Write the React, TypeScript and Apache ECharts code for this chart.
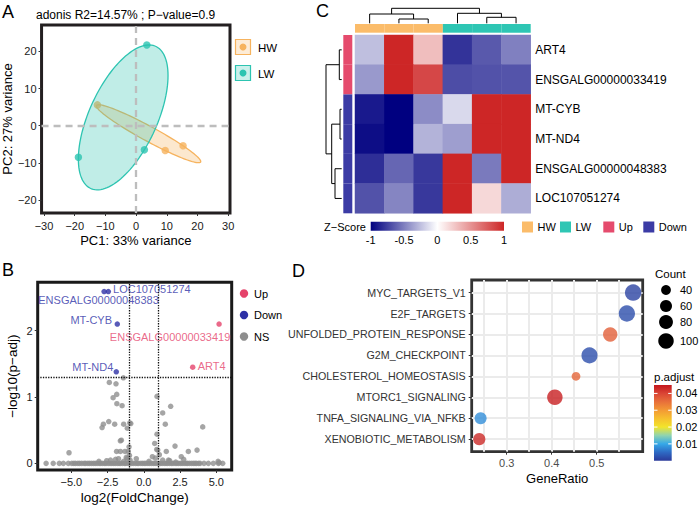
import React, { useEffect, useRef } from 'react';
import * as echarts from 'echarts';

const FONT = '"Liberation Sans", Arial, Helvetica, sans-serif';

// ---------- Panel A: PCA ----------
const pcaGroups = ['HW', 'LW'];
const pcaColors = ['#F6B35E', '#2DC4B1'];
const hwPC1 = [-12.6, 9.5, 15.3];
const hwPC2 = [5.6, -6.7, -5.4];
const lwPC1 = [3.5, -18.8, 2.7];
const lwPC2 = [21.7, -8.5, -6.5];
const pcaXTicks = [-30, -20, -10, 0, 10, 20, 30];
const pcaYTicks = [-20, -10, 0, 10, 20];

// ---------- Panel B: volcano ----------
const upGenes = ['ENSGALG00000033419', 'ART4'];
const upFC = [5.19, 3.37];
const upP = [2.1, 1.45];
const downGenes = ['LOC107051274', 'ENSGALG00000048383', 'MT-CYB', 'MT-ND4'];
const downFC = [-2.45, -2.74, -1.83, -1.9];
const downP = [2.59, 2.59, 2.1, 1.38];
const nsPoints = [
  [-6.74, 0], [-6.25, 0], [-5.83, 0], [-5.55, 0], [-5.21, 0], [-4.97, 0], [-4.83, 0], [-4.71, 0], [-4.55, 0],
  [-4.43, 0], [-4.28, 0], [-4.12, 0], [-4.01, 0], [-3.86, 0], [-3.74, 0], [-3.61, 0], [-3.47, 0], [-3.35, 0],
  [-3.22, 0], [-3.08, 0], [-2.97, 0], [-2.84, 0], [-2.7, 0], [-2.61, 0], [-2.46, 0], [-2.33, 0], [-2.21, 0],
  [-2.08, 0], [-1.97, 0], [-1.83, 0], [-1.71, 0], [-1.62, 0], [-1.48, 0], [-1.33, 0], [-1.24, 0], [-1.09, 0],
  [-0.98, 0], [-0.84, 0], [-0.73, 0], [-0.58, 0], [-0.46, 0], [-0.36, 0], [-0.21, 0], [-0.09, 0], [0.03, 0],
  [0.14, 0], [0.28, 0], [0.39, 0], [0.53, 0], [0.66, 0], [0.78, 0], [0.91, 0], [1.03, 0], [1.14, 0], [1.26, 0],
  [1.41, 0], [1.53, 0], [1.64, 0], [1.78, 0], [1.91, 0], [2.01, 0], [2.16, 0], [2.28, 0], [2.39, 0], [2.53, 0],
  [2.64, 0], [2.78, 0], [2.91, 0], [3.01, 0], [3.14, 0], [3.28, 0], [3.41, 0], [3.53, 0], [3.63, 0], [3.78, 0],
  [3.88, 0], [4.15, 0], [4.45, 0], [4.79, 0], [5.14, 0], [5.44, 0],
  [-1.41, 1.29], [-2.38, 1.22], [-1.92, 1.2], [-1.87, 1.04], [-2.12, 0.99], [-1.86, 0.9], [-1.5, 0.87],
  [0.91, 1.01], [1.3, 0.76], [1.85, 0.86], [-2.42, 0.63], [-2.79, 0.59], [-2.88, 0.54], [-2.01, 0.59],
  [-1.39, 0.59], [-0.97, 0.61], [-0.9, 0.6], [-1.14, 0.53], [1.48, 0.59], [4.06, 0.55], [-1.62, 0.34],
  [-1.55, 0.35], [0.91, 0.44], [0.75, 0.3], [0.89, 0.21], [0.96, 0.2], [2.15, 0.26], [-5.16, 0.16],
  [3.67, 0.2], [3.07, 0.18], [-1.88, 0.18], [-1.62, 0.18], [-1.3, 0.18], [-1.07, 0.18], [1.55, 0.18],
  [2.58, 0.1], [2.75, 0.06], [0.59, 0.1], [-1.95, 0.06], [-1.75, 0.07], [-1.21, 0.09], [-1.15, 0.07],
  [-0.52, 0.07], [1.3, 0.05], [1.7, 0.05], [5.12, 0.03], [5.2, 0.01], [-2.56, 0.04], [1.07, 0.13],
  [1.78, 0.04], [-0.99, 0.12], [-1.02, 0.25], [-2.3, 0.05], [0.8, 0.08], [-0.95, 0.05], [0.35, 0.03],
  [-3.1, 0.03], [2.2, 0.02], [-1.4, 0.03],
];
const volcanoXTicks = [-5, -2.5, 0, 2.5, 5];
const volcanoYTicks = [0, 1, 2];
const fcCutoff = 1;
const padjCutoff = 0.05;
const volcanoClasses = ['Up', 'Down', 'NS'];
const volcanoColors = ['#E5436B', '#2E31A6', '#8E8E8E'];

// ---------- Panel C: heatmap ----------
const heatSamples = ['HW_1', 'HW_2', 'HW_3', 'LW_1', 'LW_2', 'LW_3'];
const sampleGroups = ['HW', 'HW', 'HW', 'LW', 'LW', 'LW'];
const heatGenes = ['ART4', 'ENSGALG00000033419', 'MT-CYB', 'MT-ND4', 'ENSGALG00000048383', 'LOC107051274'];
const geneGroups = ['Up', 'Up', 'Down', 'Down', 'Down', 'Down'];
const zART4 = [-0.25, 1.9, 0.3, -0.8, -0.65, -0.5];
const zENSG33419 = [-0.4, 1.6, 0.85, -0.7, -0.68, -0.67];
const zMTCYB = [-0.9, -1.1, -0.45, -0.15, 1.3, 1.3];
const zMTND4 = [-0.95, -1.05, -0.3, -0.38, 1.34, 1.34];
const zENSG48383 = [-0.82, -0.6, -0.78, 1.36, -0.52, 1.36];
const zLOC = [-0.68, -0.48, -0.78, 2.0, 0.18, -0.32];
const heatRows = [zART4, zENSG33419, zMTCYB, zMTND4, zENSG48383, zLOC];
const colMerge = [[-2, -3], [-5, -6], [-1, 1], [-4, 2], [3, 4]];
const colHeight = [4.3, 6.0, 9.3, 10.0, 15.0];
const rowMerge = [[-3, -4], [-1, -2], [-5, -6], [1, 3], [2, 4]];
const rowHeight = [1.7, 2.4, 6.7, 10.0, 15.7];
const zTicks = [-1, -0.5, 0, 0.5, 1];
const heatColors = ['#000080', '#FFFFFF', '#CD2626'];
const annoNames = ['HW', 'LW', 'Up', 'Down'];
const annoColors = ['#FBBC6A', '#2EC6B4', '#E54B6D', '#3B3BA5'];

// ---------- Panel D: enrichment dot plot ----------
const pathways = ['MYC_TARGETS_V1', 'E2F_TARGETS', 'UNFOLDED_PROTEIN_RESPONSE', 'G2M_CHECKPOINT',
  'CHOLESTEROL_HOMEOSTASIS', 'MTORC1_SIGNALING', 'TNFA_SIGNALING_VIA_NFKB', 'XENOBIOTIC_METABOLISM'];
const geneRatio = [0.581, 0.567, 0.53, 0.484, 0.454, 0.407, 0.242, 0.239];
const geneCount = [112, 110, 86, 108, 32, 100, 60, 62];
const pAdjust = [0.001, 0.002, 0.037, 0.002, 0.036, 0.044, 0.008, 0.043];
const ratioTicks = [0.3, 0.4, 0.5];
const ratioGrid = [0.25, 0.3, 0.35, 0.4, 0.45, 0.5, 0.55];
const countBreaks = [40, 60, 80, 100];
const padjBreaks = [0.01, 0.02, 0.03, 0.04];
const padjRange = [0, 0.045];
const padjColors = ['#2B3A9A', '#2E6AC4', '#35A8E8', '#8FD3B0', '#F2E52A', '#F6C02E', '#F39A34', '#E8703A', '#DA4535', '#C3161D'];

// ---------- helpers ----------
const minus = (v: number, d?: number) => {
  const s = d === undefined ? String(Math.abs(v)) : Math.abs(v).toFixed(d);
  return v < 0 ? '\u2212' + s : s;
};
const near = (v: number, arr: number[]) => arr.some((t) => Math.abs(t - v) < 1e-6);
const clamp = (v: number, lo: number, hi: number) => Math.max(lo, Math.min(hi, v));
const dotSize = (c: number) => 1.55 * Math.sqrt(c);

function hexA(hex: string, a: number) {
  const n = parseInt(hex.slice(1), 16);
  return `rgba(${(n >> 16) & 255},${(n >> 8) & 255},${n & 255},${a})`;
}

function ellipsePoints(xs: number[], ys: number[]) {
  const n = xs.length;
  const mx = xs.reduce((a, b) => a + b, 0) / n;
  const my = ys.reduce((a, b) => a + b, 0) / n;
  let sxx = 0, syy = 0, sxy = 0;
  for (let i = 0; i < n; i++) {
    sxx += (xs[i] - mx) ** 2; syy += (ys[i] - my) ** 2; sxy += (xs[i] - mx) * (ys[i] - my);
  }
  sxx /= n - 1; syy /= n - 1; sxy /= n - 1;
  const l11 = Math.sqrt(sxx);
  const l21 = sxy / l11;
  const l22 = Math.sqrt(Math.max(syy - l21 * l21, 0));
  const r = Math.sqrt(((n - 1) * (n - 1)) / n);
  const pts: number[][] = [];
  for (let k = 0; k < 120; k++) {
    const t = (k / 120) * Math.PI * 2;
    pts.push([mx + r * l11 * Math.cos(t), my + r * (l21 * Math.cos(t) + l22 * Math.sin(t))]);
  }
  return pts;
}

function buildDendro(merge: number[][], heights: number[]) {
  const pos: number[] = [];
  const segs: number[][] = [];
  const gp = (k: number) => (k < 0 ? -k - 1 : pos[k - 1]);
  const gh = (k: number) => (k < 0 ? 0 : heights[k - 1]);
  merge.forEach((m, i) => {
    const p1 = gp(m[0]);
    const p2 = gp(m[1]);
    pos[i] = (p1 + p2) / 2;
    segs.push([p1, p2, gh(m[0]), gh(m[1]), heights[i]]);
  });
  return segs;
}

const labelLayout: Record<string, { align: string; dx: number; dy: number }> = {
  LOC107051274: { align: 'left', dx: 4.7, dy: -2.6 },
  ENSGALG00000048383: { align: 'center', dx: -5.6, dy: 8.4 },
  'MT-CYB': { align: 'right', dx: -5.3, dy: -4 },
  ENSGALG00000033419: { align: 'center', dx: -49, dy: 12.6 },
  'MT-ND4': { align: 'right', dx: -3, dy: -5 },
  ART4: { align: 'left', dx: 5, dy: -1 },
};

function geneItems(names: string[], fc: number[], p: number[], color: string) {
  return names.map((g, i) => {
    const L = labelLayout[g];
    return {
      name: g,
      value: [fc[i], p[i]],
      label: {
        show: true, formatter: () => g, position: 'inside', align: L.align, verticalAlign: 'middle',
        offset: [L.dx, L.dy], color, fontSize: 11, fontFamily: FONT,
      },
    };
  });
}

function buildOption() {
  const txt = (x: number, y: number, text: string, size: number, opts: any = {}) => ({
    type: 'text', x, y, z: 100,
    style: { text, fill: opts.fill || '#000', font: `${size}px ${FONT}`, align: opts.align || 'left', verticalAlign: opts.va || 'middle' },
  });

  const colSegs = buildDendro(colMerge, colHeight);
  const rowSegs = buildDendro(rowMerge, rowHeight);

  const heatData: number[][] = [];
  heatRows.forEach((row, r) => row.forEach((v, c) => heatData.push([c, r, clamp(v, -1, 1)])));

  const tickStyle = { show: true, length: 3, lineStyle: { color: '#333', width: 1 } };
  const hidden = { show: false };
  const noLine = { show: false, onZero: false };

  const graphics: any[] = [];
  graphics.push(txt(2, 12, 'A', 18));
  graphics.push(txt(2, 270, 'B', 18));
  graphics.push(txt(316, 11, 'C', 18));
  graphics.push(txt(292, 271, 'D', 18));
  graphics.push(txt(36, 15, 'adonis R2=14.57% ; P\u2212value=0.9', 12));

  pcaGroups.forEach((g, i) => {
    const y0 = 39.5 + i * 26;
    graphics.push({ type: 'rect', shape: { x: 235.5, y: y0, width: 15, height: 15 }, style: { fill: hexA(pcaColors[i], 0.25), stroke: pcaColors[i], lineWidth: 1.2 } });
    graphics.push({ type: 'circle', shape: { cx: 243, cy: y0 + 7.5, r: 3.5 }, style: { fill: pcaColors[i] } });
    graphics.push(txt(258, y0 + 8, g, 11.5));
  });

  volcanoClasses.forEach((c, i) => {
    const y = 293.5 + i * 21.5;
    graphics.push({ type: 'circle', shape: { cx: 244, cy: y, r: 4.2 }, style: { fill: volcanoColors[i] } });
    graphics.push(txt(254, y, c, 11));
  });

  const cbX = 370.7, cbW = 133.3, cbY = 221.7, cbH = 9;
  graphics.push({
    type: 'rect', shape: { x: cbX, y: cbY, width: cbW, height: cbH },
    style: { fill: new echarts.graphic.LinearGradient(0, 0, 1, 0, heatColors.map((c, i) => ({ offset: i / (heatColors.length - 1), color: c }))) },
  });
  zTicks.forEach((t) => graphics.push(txt(cbX + ((t + 1) / 2) * cbW, 239.5, String(t), 11, { align: 'center' })));
  graphics.push(txt(366, 227, 'Z\u2212Score', 11, { align: 'right' }));
  const annoLegendX = [522, 560, 603.3, 643.3];
  annoNames.forEach((n, i) => {
    graphics.push({ type: 'rect', shape: { x: annoLegendX[i], y: 221.5, width: 11, height: 11 }, style: { fill: annoColors[i] } });
    graphics.push(txt(annoLegendX[i] + 15.5, 227, n, 11));
  });

  graphics.push(txt(655, 274, 'Count', 11.5));
  const countY = [290, 306, 322, 341];
  countBreaks.forEach((c, i) => {
    graphics.push({ type: 'circle', shape: { cx: 666, cy: countY[i], r: dotSize(c) / 2 }, style: { fill: '#000' } });
    graphics.push(txt(680, countY[i], String(c), 11));
  });
  graphics.push(txt(654, 377, 'p.adjust', 11.5));
  const pbX = 654, pbW = 17.7, pbTop = 385, pbBot = 460.7;
  const pY = (v: number) => pbBot - ((v - padjRange[0]) / (padjRange[1] - padjRange[0])) * (pbBot - pbTop);
  graphics.push({
    type: 'rect', shape: { x: pbX, y: pbTop, width: pbW, height: pbBot - pbTop },
    style: { fill: new echarts.graphic.LinearGradient(0, 1, 0, 0, padjColors.map((c, i) => ({ offset: i / (padjColors.length - 1), color: c }))) },
  });
  padjBreaks.forEach((b) => {
    const y = pY(b);
    graphics.push({ type: 'line', shape: { x1: pbX, y1: y, x2: pbX + 3.5, y2: y }, style: { stroke: '#fff', lineWidth: 1 } });
    graphics.push({ type: 'line', shape: { x1: pbX + pbW - 3.5, y1: y, x2: pbX + pbW, y2: y }, style: { stroke: '#fff', lineWidth: 1 } });
    graphics.push(txt(676, y, b.toFixed(2), 11));
  });

  const axisText = { fontSize: 11, color: '#1A1A1A', fontFamily: FONT };

  return {
    animation: false,
    backgroundColor: '#fff',
    textStyle: { fontFamily: FONT },
    grid: [
      { left: 37, top: 25, width: 193, height: 188, show: true, borderColor: '#231F20', borderWidth: 3, backgroundColor: 'transparent' },
      { left: 37.7, top: 282.3, width: 194, height: 187.7, show: true, borderColor: '#1A1A1A', borderWidth: 3, backgroundColor: 'transparent' },
      { left: 355, top: 35, width: 175.7, height: 178.3 },
      { left: 355, top: 24, width: 175.7, height: 8.7 },
      { left: 343.3, top: 35, width: 9, height: 178.3 },
      { left: 355, top: 8.3, width: 175.7, height: 15 },
      { left: 326, top: 35, width: 15.7, height: 178.3 },
      { left: 471.7, top: 280, width: 171, height: 171.7, show: true, borderColor: '#333', borderWidth: 2.8, backgroundColor: 'transparent' },
    ],
    xAxis: [
      {
        gridIndex: 0, type: 'value', min: -30.8, max: 30.6, axisLine: noLine, splitLine: hidden,
        axisTick: { ...tickStyle, customValues: pcaXTicks },
        axisLabel: { ...axisText, margin: 7, customValues: pcaXTicks, formatter: (v: number) => (near(v, pcaXTicks) ? minus(v) : '') },
        name: 'PC1: 33% variance', nameLocation: 'middle', nameGap: 21, nameTextStyle: { fontSize: 13, color: '#000', fontFamily: FONT },
      },
      {
        gridIndex: 1, type: 'value', min: -7.32, max: 6.06, axisLine: noLine, splitLine: hidden,
        axisTick: { ...tickStyle, customValues: volcanoXTicks },
        axisLabel: { ...axisText, margin: 6, customValues: volcanoXTicks, formatter: (v: number) => (near(v, volcanoXTicks) ? minus(v, 1) : '') },
        name: 'log2(FoldChange)', nameLocation: 'middle', nameGap: 20, nameTextStyle: { fontSize: 13.5, color: '#000', fontFamily: FONT },
      },
      { gridIndex: 2, type: 'category', data: heatSamples, show: false },
      { gridIndex: 3, type: 'category', data: heatSamples, show: false },
      { gridIndex: 4, type: 'category', data: ['gene group'], show: false },
      { gridIndex: 5, type: 'value', min: -0.5, max: 5.5, show: false, axisLine: noLine },
      { gridIndex: 6, type: 'value', min: 0, max: 15.7, inverse: true, show: false, axisLine: noLine },
      {
        gridIndex: 7, type: 'value', min: 0.2222, max: 0.6022, splitNumber: 8, axisLine: noLine,
        axisTick: { show: false, customValues: ratioGrid },
        splitLine: { show: true, lineStyle: { color: '#EBEBEB', width: 2 } },
        axisLabel: { ...axisText, color: '#4D4D4D', margin: 6, customValues: ratioTicks, formatter: (v: number) => (near(v, ratioTicks) ? v.toFixed(1) : '') },
        name: 'GeneRatio', nameLocation: 'middle', nameGap: 20, nameTextStyle: { fontSize: 13, color: '#000', fontFamily: FONT },
      },
      {
        gridIndex: 7, type: 'value', min: 0.2222, max: 0.6022, position: 'bottom', offset: 0, axisLine: noLine, splitLine: hidden,
        axisLabel: hidden, axisTick: { ...tickStyle, customValues: ratioTicks },
      },
    ],
    yAxis: [
      {
        gridIndex: 0, type: 'value', min: -23.5, max: 27.1, axisLine: noLine, splitLine: hidden,
        axisTick: { ...tickStyle, customValues: pcaYTicks },
        axisLabel: { ...axisText, margin: 5, customValues: pcaYTicks, formatter: (v: number) => (near(v, pcaYTicks) ? minus(v) : '') },
        name: 'PC2: 27% variance', nameLocation: 'middle', nameGap: 21, nameTextStyle: { fontSize: 13, color: '#000', fontFamily: FONT },
      },
      {
        gridIndex: 1, type: 'value', min: -0.1, max: 2.73, axisLine: noLine, splitLine: hidden,
        axisTick: { ...tickStyle, customValues: volcanoYTicks },
        axisLabel: { ...axisText, margin: 5, customValues: volcanoYTicks, formatter: (v: number) => (near(v, volcanoYTicks) ? String(v) : '') },
        name: '\u2212log10(p\u2212adj)', nameLocation: 'middle', nameGap: 18, nameTextStyle: { fontSize: 13.5, color: '#000', fontFamily: FONT },
      },
      {
        gridIndex: 2, type: 'category', data: heatGenes, inverse: true, position: 'right',
        axisLine: hidden, axisTick: hidden, splitLine: hidden,
        axisLabel: { fontSize: 12, color: '#000', margin: 4.5, fontFamily: FONT },
      },
      { gridIndex: 3, type: 'category', data: ['sample group'], show: false },
      { gridIndex: 4, type: 'category', data: heatGenes, inverse: true, show: false },
      { gridIndex: 5, type: 'value', min: 0, max: 15, show: false, axisLine: noLine },
      { gridIndex: 6, type: 'value', min: -0.5, max: 5.5, inverse: true, show: false, axisLine: noLine },
      {
        gridIndex: 7, type: 'value', min: 0.4, max: 8.6, inverse: true, splitNumber: 8, axisLine: noLine,
        axisTick: { ...tickStyle, customValues: pathways.map((_, i) => i + 1) },
        splitLine: { show: true, lineStyle: { color: '#EBEBEB', width: 2 } },
        axisLabel: {
          fontSize: 10.7, color: '#333', margin: 6, fontFamily: FONT,
          customValues: pathways.map((_, i) => i + 1),
          formatter: (v: number) => (Math.abs(v - Math.round(v)) < 1e-6 && pathways[Math.round(v) - 1] ? pathways[Math.round(v) - 1] : ''),
        },
      },
    ],
    visualMap: [
      { type: 'continuous', show: false, seriesIndex: 6, dimension: 2, min: -1, max: 1, inRange: { color: heatColors } },
      { type: 'continuous', show: false, seriesIndex: 11, dimension: 2, min: padjRange[0], max: padjRange[1], inRange: { color: padjColors } },
    ],
    graphic: graphics,
    series: [
      {
        type: 'scatter', xAxisIndex: 0, yAxisIndex: 0, z: 2, symbolSize: 7.5,
        itemStyle: { color: pcaColors[0] },
        data: hwPC1.map((x, i) => [x, hwPC2[i]]),
        markLine: {
          silent: true, symbol: 'none', label: { show: false }, emphasis: { disabled: true },
          lineStyle: { color: '#BDBDBD', type: [7, 5], width: 2.3 },
          data: [{ xAxis: 0 }, { yAxis: 0 }],
        },
      },
      {
        type: 'scatter', xAxisIndex: 0, yAxisIndex: 0, z: 2, symbolSize: 7.5,
        itemStyle: { color: pcaColors[1] },
        data: lwPC1.map((x, i) => [x, lwPC2[i]]),
      },
      {
        type: 'custom', xAxisIndex: 0, yAxisIndex: 0, z: 3,
        data: [[hwPC1[0], hwPC2[0]], [lwPC1[0], lwPC2[0]]],
        renderItem: (params: any, api: any) => {
          const g = params.dataIndex;
          const xs = g === 0 ? hwPC1 : lwPC1;
          const ys = g === 0 ? hwPC2 : lwPC2;
          const pts = ellipsePoints(xs, ys).map((p) => api.coord(p));
          return { type: 'polygon', shape: { points: pts }, style: { fill: hexA(pcaColors[g], 0.3), stroke: pcaColors[g], lineWidth: 1.3 } };
        },
      },
      {
        type: 'scatter', xAxisIndex: 1, yAxisIndex: 1, symbolSize: 5.5, z: 2,
        itemStyle: { color: volcanoColors[2] },
        data: nsPoints,
        markLine: {
          silent: true, symbol: 'none', label: { show: false }, emphasis: { disabled: true },
          lineStyle: { color: '#111', type: 'dotted', width: 1.3 },
          data: [{ xAxis: -fcCutoff }, { xAxis: fcCutoff }, { yAxis: -Math.log10(padjCutoff) }],
        },
      },
      {
        type: 'scatter', xAxisIndex: 1, yAxisIndex: 1, symbolSize: 5.5, z: 3,
        itemStyle: { color: volcanoColors[1] },
        data: geneItems(downGenes, downFC, downP, volcanoColors[1]),
      },
      {
        type: 'scatter', xAxisIndex: 1, yAxisIndex: 1, symbolSize: 5.5, z: 3,
        itemStyle: { color: volcanoColors[0] },
        data: geneItems(upGenes, upFC, upP, volcanoColors[0]),
      },
      {
        type: 'heatmap', xAxisIndex: 2, yAxisIndex: 2, data: heatData,
        itemStyle: { borderWidth: 0 }, emphasis: { disabled: true },
      },
      {
        type: 'custom', xAxisIndex: 3, yAxisIndex: 3,
        data: sampleGroups.map((g, i) => [i, 0, annoNames.indexOf(g)]),
        renderItem: (params: any, api: any) => {
          const c = api.coord([api.value(0), api.value(1)]);
          const s = api.size([1, 1]);
          return { type: 'rect', shape: { x: c[0] - s[0] / 2, y: c[1] - s[1] / 2, width: s[0], height: s[1] }, style: { fill: annoColors[api.value(2)] } };
        },
      },
      {
        type: 'custom', xAxisIndex: 4, yAxisIndex: 4,
        data: geneGroups.map((g, i) => [0, i, annoNames.indexOf(g)]),
        renderItem: (params: any, api: any) => {
          const c = api.coord([api.value(0), api.value(1)]);
          const s = api.size([1, 1]);
          return { type: 'rect', shape: { x: c[0] - s[0] / 2, y: c[1] - s[1] / 2, width: s[0], height: s[1] }, style: { fill: annoColors[api.value(2)] } };
        },
      },
      {
        type: 'custom', xAxisIndex: 5, yAxisIndex: 5,
        data: colSegs.map((s) => [(s[0] + s[1]) / 2, s[4]]),
        renderItem: (params: any, api: any) => {
          const s = colSegs[params.dataIndex];
          const pts = [[s[0], s[2]], [s[0], s[4]], [s[1], s[4]], [s[1], s[3]]].map((p) => api.coord(p));
          return { type: 'polyline', shape: { points: pts }, style: { stroke: '#000', fill: 'none', lineWidth: 1 } };
        },
      },
      {
        type: 'custom', xAxisIndex: 6, yAxisIndex: 6,
        data: rowSegs.map((s) => [s[4], (s[0] + s[1]) / 2]),
        renderItem: (params: any, api: any) => {
          const s = rowSegs[params.dataIndex];
          const pts = [[s[2], s[0]], [s[4], s[0]], [s[4], s[1]], [s[3], s[1]]].map((p) => api.coord(p));
          return { type: 'polyline', shape: { points: pts }, style: { stroke: '#000', fill: 'none', lineWidth: 1 } };
        },
      },
      {
        type: 'scatter', xAxisIndex: 7, yAxisIndex: 7, z: 3,
        data: pathways.map((p, i) => [geneRatio[i], i + 1, pAdjust[i], geneCount[i]]),
        symbolSize: (v: number[]) => dotSize(v[3]),
      },
    ],
  };
}

export default function App() {
  const ref = useRef<HTMLDivElement>(null);
  useEffect(() => {
    const chart = echarts.init(ref.current as HTMLDivElement, null, { renderer: 'svg' });
    chart.setOption(buildOption() as any);
    return () => chart.dispose();
  }, []);
  return <div ref={ref} style={{ position: 'fixed', left: 0, top: 0, width: 700, height: 506, background: '#fff' }} />;
}
